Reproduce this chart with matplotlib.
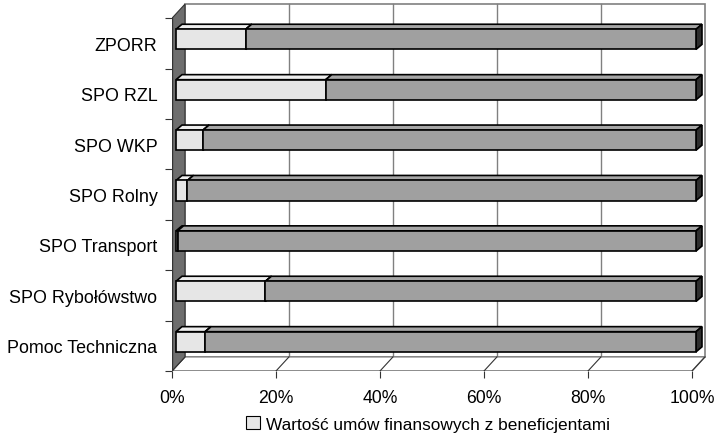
import matplotlib
matplotlib.use('Agg')
import matplotlib.pyplot as plt
from matplotlib.patches import Polygon, Patch

plt.rcParams['font.family'] = ['Liberation Sans', 'DejaVu Sans']

# data (share of value in %)
programs = ['ZPORR', 'SPO RZL', 'SPO WKP', 'SPO Rolny', 'SPO Transport',
            'SPO Rybołówstwo', 'Pomoc Techniczna']
contracts = [13.4, 28.8, 5.2, 2.2, 0.3, 17.2, 5.6]
rest = [100 - v for v in contracts]
xticks = [0, 20, 40, 60, 80, 100]
xlabels = ['0%', '20%', '40%', '60%', '80%', '100%']
legend_label = 'Wartość umów finansowych z beneficjentami'

# 3d look (data units)
WX, WY = 2.5, 0.28      # wall depth
BX, BY = 0.77, 0.08     # bar front offset from front plane
DX, DY = 1.15, 0.10     # bar depth
H = 0.4                 # bar front height

fig = plt.figure(figsize=(7.14, 4.35), dpi=100)
W, Hf = 714, 435
ax = fig.add_axes([172 / W, 63 / Hf, 103 * 5.2 / W, 7.3 * 50.4 / Hf])
n = len(programs)
ax.set_xlim(0, 103)
ax.set_ylim(-0.5, n - 0.5 + WY + 0.02)
for s in ax.spines.values():
    s.set_visible(False)

top = n - 0.5
bot = -0.5
# back wall
ax.add_patch(Polygon([(WX, bot + WY), (100 + WX, bot + WY), (100 + WX, top + WY), (WX, top + WY)],
                     closed=True, fc='white', ec='#808080', lw=1.2, zorder=1))
for t in xticks[1:-1]:
    ax.plot([t + WX, t + WX], [bot + WY, top + WY], color='#808080', lw=1, zorder=1.5)
# left wall
ax.add_patch(Polygon([(0, bot), (WX, bot + WY), (WX, top + WY), (0, top)],
                     closed=True, fc='#6e6e6e', ec='#333333', lw=0.8, zorder=2))
# floor
ax.add_patch(Polygon([(0, bot), (100, bot), (100 + WX, bot + WY), (WX, bot + WY)],
                     closed=True, fc='white', ec='#808080', lw=1, zorder=1.6))
for t in xticks:
    ax.plot([t, t + WX], [bot, bot + WY], color='#333333', lw=0.8, zorder=1.7)
ax.plot([0, 100], [bot, bot], color='#333333', lw=1, zorder=1.8)
ax.plot([0, 0], [bot, top], color='#333333', lw=1, zorder=2.1)


def box(x0, x1, yc, front, topc, side, z):
    y0 = yc - H / 2 + BY
    y1 = yc + H / 2 + BY
    xa, xb = x0 + BX, x1 + BX
    kw = dict(closed=True, ec='black', lw=1.2, zorder=z, joinstyle='miter')
    ax.add_patch(Polygon([(xa, y1), (xb, y1), (xb + DX, y1 + DY), (xa + DX, y1 + DY)], fc=topc, **kw))
    ax.add_patch(Polygon([(xb, y0), (xb + DX, y0 + DY), (xb + DX, y1 + DY), (xb, y1)], fc=side, **kw))
    ax.add_patch(Polygon([(xa, y0), (xb, y0), (xb, y1), (xa, y1)], fc=front, **kw))


ypos = [n - 1 - i for i in range(n)]
for i in range(n):
    box(0, contracts[i], ypos[i], '#e6e6e6', '#eeeeee', '#e6e6e6', 3)
    box(contracts[i], 100, ypos[i], '#a0a0a0', '#a6a6a6', '#2e2e2e', 4 - 0.01 * i)

ax.set_xticks(xticks)
ax.set_xticklabels(xlabels, fontsize=12.7)
ax.tick_params(axis='x', length=5, width=0.8, color='#333333', pad=8)
ax.set_yticks([bot + k for k in range(n + 1)])
ax.set_yticklabels([])
ax.set_yticks(ypos, minor=True)
ax.set_yticklabels(programs, minor=True, fontsize=12.9)
ax.tick_params(axis='y', which='major', length=5, width=0.8, color='#333333')
ax.tick_params(axis='y', which='minor', length=0, pad=10.5)

fig.legend(handles=[Patch(fc='#e6e6e6', ec='black', lw=0.8)], labels=[legend_label],
           loc='center', bbox_to_anchor=(428 / W, 10 / Hf), frameon=False, fontsize=12.4,
           handlelength=0.8, handleheight=0.8, handletextpad=0.35, borderpad=0)

fig.savefig('out.png', dpi=100)
